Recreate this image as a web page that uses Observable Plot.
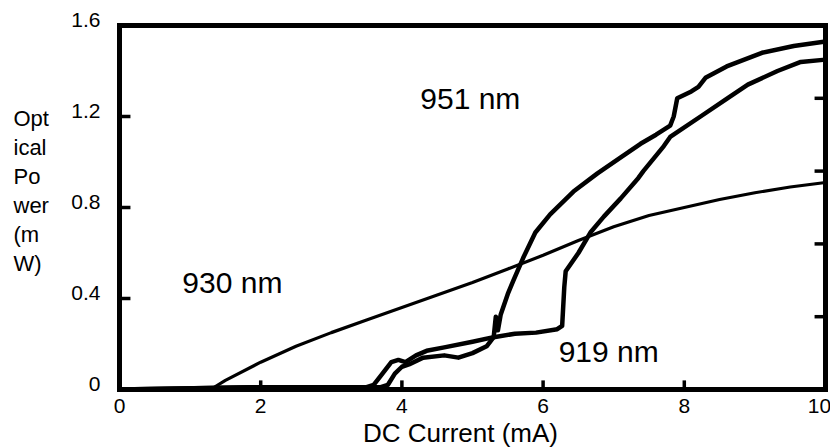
<!DOCTYPE html>
<html><head><meta charset="utf-8">
<script src="https://cdn.jsdelivr.net/npm/d3@7"></script>
<script src="https://cdn.jsdelivr.net/npm/@observablehq/plot@0.6"></script>
<style>body{margin:0;background:#fff;}</style>
</head><body><div id="chart"></div>
<script>
// 930 nm
const current930 = [0, 0.5, 1.0, 1.29, 1.5, 2.0, 2.5, 3.0, 3.5, 4.0, 4.5, 5.0, 5.5, 6.0, 6.5, 7.0, 7.5, 8.0, 8.5, 9.0, 9.5, 10.0];
const power930   = [0, 0, 0, 0, 0.04, 0.12, 0.19, 0.25, 0.305, 0.36, 0.415, 0.47, 0.53, 0.59, 0.655, 0.715, 0.765, 0.80, 0.835, 0.865, 0.89, 0.91];
// 951 nm
const current951 = [0, 1.9, 3.7, 3.8, 3.9, 4.0, 4.1, 4.3, 4.6, 4.8, 5.0, 5.2, 5.3, 5.33, 5.36, 5.4, 5.5, 5.58, 5.72, 5.89, 6.1, 6.43, 6.77, 7.1, 7.38, 7.6, 7.8, 7.85, 7.9, 8.1, 8.2, 8.3, 8.6, 9.1, 9.55, 10];
const power951   = [0, 0.01, 0.01, 0.02, 0.07, 0.10, 0.11, 0.14, 0.15, 0.14, 0.16, 0.19, 0.23, 0.32, 0.26, 0.33, 0.42, 0.48, 0.58, 0.69, 0.77, 0.87, 0.95, 1.02, 1.08, 1.12, 1.16, 1.20, 1.28, 1.31, 1.33, 1.37, 1.42, 1.48, 1.51, 1.53];
// 919 nm
const current919 = [0, 1.9, 3.5, 3.6, 3.7, 3.85, 3.95, 4.05, 4.2, 4.35, 4.6, 5.0, 5.3, 5.6, 5.9, 6.2, 6.27, 6.3, 6.32, 6.5, 6.67, 6.86, 7.1, 7.35, 7.42, 7.71, 7.8, 8.23, 8.61, 8.9, 9.32, 9.65, 10];
const power919   = [0, 0.01, 0.01, 0.02, 0.06, 0.12, 0.13, 0.12, 0.15, 0.17, 0.185, 0.21, 0.23, 0.245, 0.25, 0.265, 0.28, 0.45, 0.52, 0.60, 0.69, 0.76, 0.84, 0.93, 0.96, 1.07, 1.11, 1.20, 1.28, 1.34, 1.40, 1.44, 1.45];

const yTickValues = [0, 0.4, 0.8, 1.2, 1.6];
const yTickLabels = ["0", "0.4", "0.8", "1.2", "1.6"];
const xTickValues = [0, 2, 4, 6, 8];
const xTickLabels = ["0", "2", "4", "6", "8"];
const xLastTickValue = 10;
const xLastTickLabel = "10";
const leftInnerTicks = [0.4, 0.8, 1.2];
const rightInnerTicks = [0.32, 0.64, 0.96, 1.28];
const bottomInnerTicks = [2, 4, 6, 8];
const xTitle = "DC Current (mA)";
const yTitle = "Opt\nical\nPo\nwer\n(m\nW)";
const annotationText = ["951 nm", "930 nm", "919 nm"];
const annotationX = [4.26, 0.89, 6.22];
const annotationY = [1.235, 0.426, 0.119];

const xDomain = [0, 10];
const yDomain = [0, 1.6];
const hTickLen = 0.155;  // inward tick length on the y sides, in x units
const vTickLen = 0.04;   // inward tick length on the bottom, in y units

const toRows = (xs, ys) => xs.map((x, i) => ({current: x, power: ys[i]}));
const rows930 = toRows(current930, power930);
const rows951 = toRows(current951, power951);
const rows919 = toRows(current919, power919);
const annotations = annotationText.map((t, i) => ({text: t, x: annotationX[i], y: annotationY[i]}));

const frameRows = [
  [xDomain[0], yDomain[0]], [xDomain[1], yDomain[0]], [xDomain[1], yDomain[1]],
  [xDomain[0], yDomain[1]], [xDomain[0], yDomain[0]]
].map(([x, y]) => ({x, y}));
const tickRows = [
  ...leftInnerTicks.flatMap(t => [{x: xDomain[0], y: t, k: "L" + t}, {x: xDomain[0] + hTickLen, y: t, k: "L" + t}]),
  ...rightInnerTicks.flatMap(t => [{x: xDomain[1] - hTickLen, y: t, k: "R" + t}, {x: xDomain[1], y: t, k: "R" + t}]),
  ...bottomInnerTicks.flatMap(t => [{x: t, y: yDomain[0], k: "B" + t}, {x: t, y: yDomain[0] + vTickLen, k: "B" + t}])
];

const chart = Plot.plot({
  width: 830, height: 447,
  marginLeft: 119, marginRight: 5, marginTop: 25, marginBottom: 58,
  x: {domain: xDomain, axis: null},
  y: {domain: yDomain, axis: null},
  style: {fontFamily: "'Liberation Sans', Arial, Helvetica, sans-serif", color: "#000", background: "#fff"},
  marks: [
    Plot.line(rows930, {x: "current", y: "power", stroke: "#000", strokeWidth: 3.2, strokeLinejoin: "round"}),
    Plot.line(rows951, {x: "current", y: "power", stroke: "#000", strokeWidth: 4.5, strokeLinejoin: "round"}),
    Plot.line(rows919, {x: "current", y: "power", stroke: "#000", strokeWidth: 4.5, strokeLinejoin: "round"}),
    Plot.frame({stroke: "#000", strokeWidth: 5}),
    Plot.line(frameRows, {x: "x", y: "y", stroke: "#000", strokeWidth: 5, strokeLinejoin: "miter", strokeLinecap: "square"}),
    Plot.line(tickRows, {x: "x", y: "y", z: "k", stroke: "#000", strokeWidth: 3.5, strokeLinecap: "butt"}),
    Plot.text(yTickValues, {y: d => d, text: (d, i) => yTickLabels[i], frameAnchor: "left", dx: -19, dy: 1, textAnchor: "end", lineAnchor: "bottom", fontSize: 21, fill: "#000"}),
    Plot.text(xTickValues, {x: d => d, text: (d, i) => xTickLabels[i], frameAnchor: "bottom", dy: 23, lineAnchor: "bottom", fontSize: 21, fill: "#000"}),
    Plot.text([xLastTickValue], {x: d => d, text: () => xLastTickLabel, frameAnchor: "bottom", dx: -6, dy: 23, lineAnchor: "bottom", fontSize: 21, fill: "#000"}),
    Plot.text([xTitle], {text: d => d, frameAnchor: "bottom", dx: -12, dy: 52, lineAnchor: "bottom", fontSize: 26, fill: "#000"}),
    Plot.text([yTitle], {text: d => d, frameAnchor: "top-left", dx: -106, dy: 80, textAnchor: "start", lineAnchor: "top", fontSize: 22, lineHeight: 1.32, fill: "#000"}),
    Plot.text(annotations, {x: "x", y: "y", text: "text", textAnchor: "start", lineAnchor: "bottom", fontSize: 30, fill: "#000"})
  ]
});
document.getElementById("chart").appendChild(chart);
</script>
</body></html>
